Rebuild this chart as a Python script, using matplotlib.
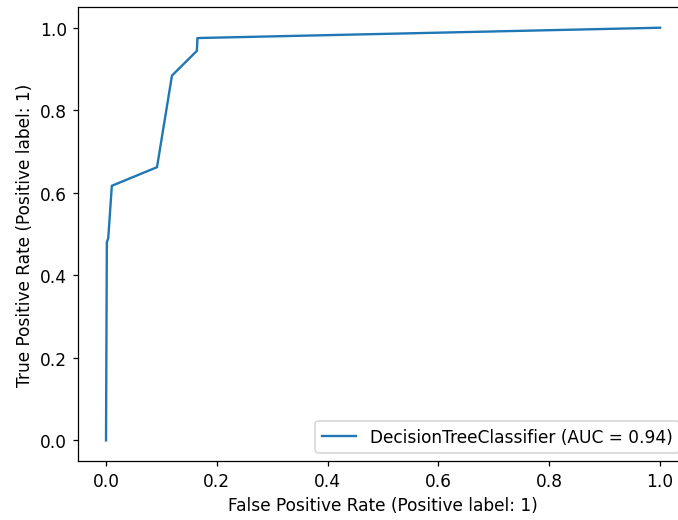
import matplotlib
matplotlib.use('Agg')
import matplotlib.pyplot as plt

# ROC curve points
fpr = [0.0, 0.0015, 0.004, 0.0105, 0.092, 0.119, 0.164, 0.165, 1.0]
tpr = [0.0, 0.480, 0.490, 0.617, 0.662, 0.884, 0.944, 0.975, 1.0]
auc = 0.94
label = f'DecisionTreeClassifier (AUC = {auc:.2f})'

plt.rcParams['font.size'] = 10.8

fig = plt.figure(figsize=(6.0, 4.61), dpi=113)
# right edge of the axes runs just past the picture, as in the screenshot
ax = fig.add_axes([0.1155, 0.1132, 0.899, 0.8714])
ax.plot(fpr, tpr, label=label)
ax.set_xlabel('False Positive Rate (Positive label: 1)')
ax.set_ylabel('True Positive Rate (Positive label: 1)')
ax.legend(loc='lower right')

fig.savefig('out.png', dpi=113)
